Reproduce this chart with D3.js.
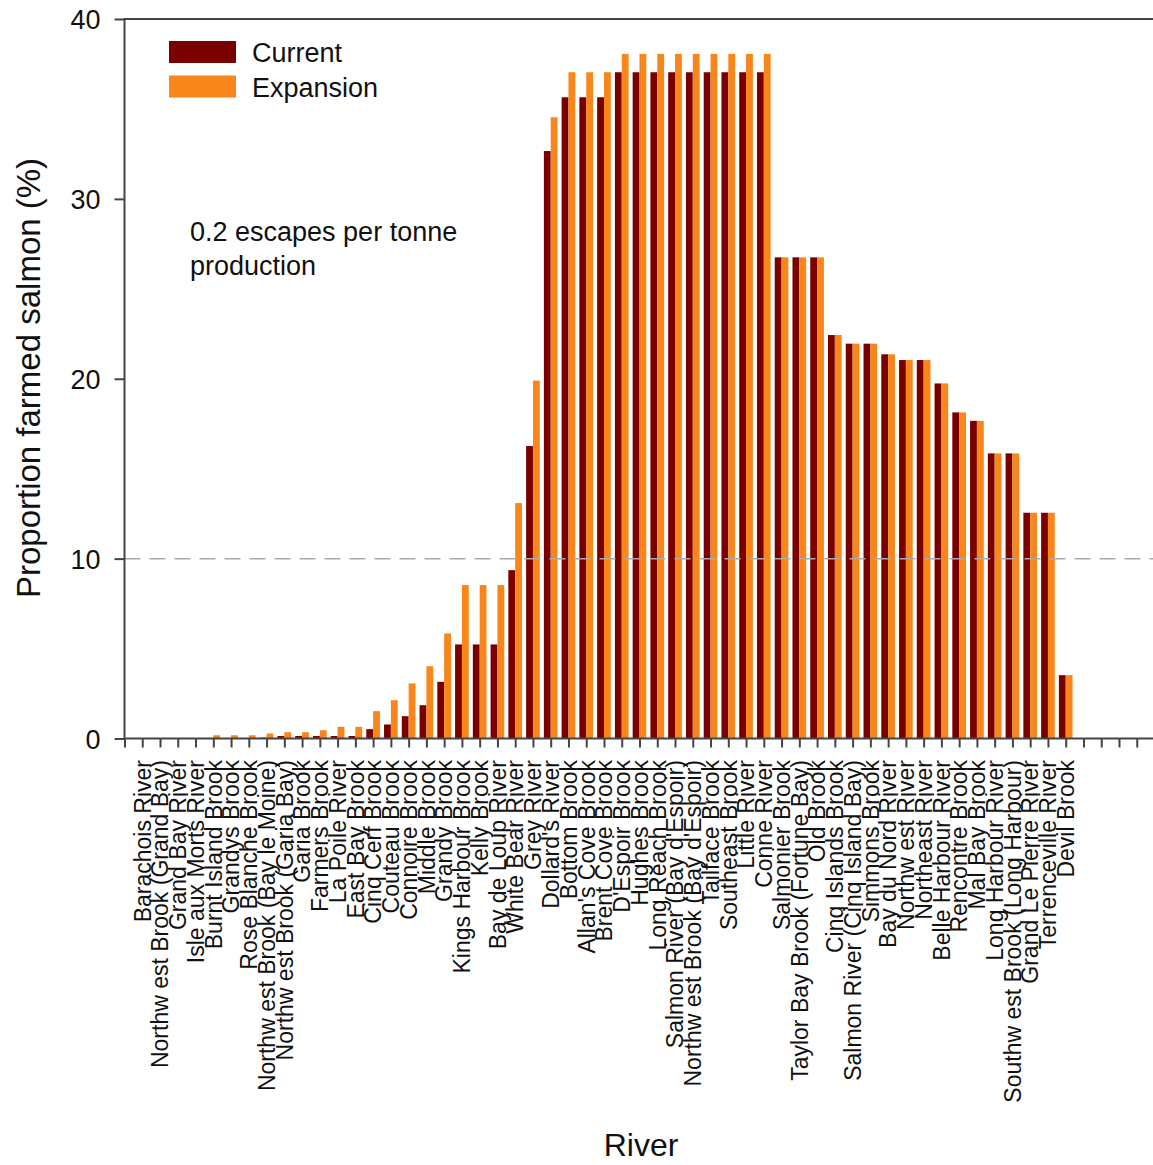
<!DOCTYPE html>
<html><head><meta charset="utf-8">
<script src="https://cdn.jsdelivr.net/npm/d3@7"></script>
<style>body{margin:0;background:#fff}svg{display:block}text{font-family:"Liberation Sans",Arial,sans-serif;fill:#111}</style>
</head><body><svg id="c" width="1153" height="1165"></svg>
<script>
const categories = ["Barachois River","Northw est Brook (Grand Bay)","Grand Bay River","Isle aux Morts River","Burnt Island Brook","Grandys Brook","Rose Blanche Brook","Northw est Brook (Bay le Moine)","Northw est Brook (Garia Bay)","Garia Brook","Farmers Brook","La Poile River","East Bay Brook","Cinq Cerf Brook","Couteau Brook","Connoire Brook","Middle Brook","Grandy Brook","Kings Harbour Brook","Kelly Brook","Bay de Loup River","White Bear River","Grey River","Dollard's River","Bottom Brook","Allan's Cove Brook","Brent Cove Brook","D'Espoir Brook","Hughes Brook","Long Reach Brook","Salmon River (Bay d'Espoir)","Northw est Brook (Bay d'Espoir)","Tailface Brook","Southeast Brook","Little River","Conne River","Salmonier Brook","Taylor Bay Brook (Fortune Bay)","Old Brook","Cinq Islands Brook","Salmon River (Cinq Island Bay)","Simmons Brook","Bay du Nord River","Northw est River","Northeast River","Belle Harbour River","Rencontre Brook","Mal Bay Brook","Long Harbour River","Southw est Brook (Long Harbour)","Grand Le Pierre River","Terrenceville River","Devil Brook"];
const current = [0,0,0,0,0,0,0,0.05,0.14,0.14,0.14,0.14,0.14,0.52,0.78,1.24,1.85,3.15,5.23,5.23,5.23,9.36,16.26,32.66,35.65,35.65,35.65,37.04,37.04,37.04,37.04,37.04,37.04,37.04,37.04,37.04,26.75,26.75,26.75,22.43,21.95,21.95,21.36,21.04,21.04,19.74,18.13,17.66,15.85,15.85,12.55,12.55,3.52];
const expansion = [0,0,0,0,0.18,0.18,0.18,0.28,0.35,0.35,0.46,0.65,0.65,1.52,2.13,3.06,4.02,5.84,8.53,8.53,8.53,13.09,19.9,34.54,37.04,37.04,37.04,38.06,38.06,38.06,38.06,38.06,38.06,38.06,38.06,38.06,26.75,26.75,26.75,22.43,21.95,21.95,21.36,21.04,21.04,19.74,18.13,17.66,15.85,15.85,12.55,12.55,3.52];
const yTicks = [0,10,20,30,40];
const seriesNames = ["Current","Expansion"];
const colors = ["#7a0000","#f8861b"];
const threshold = 10;

const svg = d3.select("#c");
const x = d3.scaleLinear().domain([0,58]).range([124.5,1154.5]);
const y = d3.scaleLinear().domain([0,40]).range([738.5,19]);
const step = x(1)-x(0);
const bw = step*0.385;
const axisColor = "#444";

// bars
const g = svg.append("g");
g.selectAll("rect.cur").data(current).join("rect")
  .attr("x",(d,i)=>x(i+1)-bw).attr("width",bw)
  .attr("y",d=>y(d)).attr("height",d=>y(0)-y(d)).attr("fill",colors[0]);
g.selectAll("rect.exp").data(expansion).join("rect")
  .attr("x",(d,i)=>x(i+1)).attr("width",bw)
  .attr("y",d=>y(d)).attr("height",d=>y(0)-y(d)).attr("fill",colors[1]);

// threshold dashed line
svg.append("line").attr("x1",x(0)).attr("x2",x(58)).attr("y1",y(threshold)).attr("y2",y(threshold))
  .attr("stroke","#aaa").attr("stroke-width",1.5).attr("stroke-dasharray","16,9");

// frame
svg.append("rect").attr("x",x(0)).attr("y",y(40)).attr("width",x(58)-x(0)).attr("height",y(0)-y(40))
  .attr("fill","none").attr("stroke",axisColor).attr("stroke-width",2);

// x axis ticks
const xa = svg.append("g").attr("transform",`translate(0,${y(0)})`)
  .call(d3.axisBottom(x).tickValues(d3.range(0,58)).tickSize(9).tickFormat(""));
xa.select(".domain").remove();
xa.selectAll("line").attr("stroke",axisColor).attr("stroke-width",2);

// y axis
const ya = svg.append("g").attr("transform",`translate(${x(0)},0)`)
  .call(d3.axisLeft(y).tickValues(yTicks).tickSize(10).tickPadding(14));
ya.select(".domain").remove();
ya.selectAll("line").attr("stroke",axisColor).attr("stroke-width",2);
ya.selectAll("text").attr("font-size",27).attr("font-family","Liberation Sans, Arial, sans-serif").attr("fill","#111").attr("dy","0.36em");

// category labels
svg.append("g").selectAll("text").data(categories).join("text")
  .attr("transform",(d,i)=>`translate(${x(i+1)},760) rotate(-90)`)
  .attr("text-anchor","end").attr("dy","0.36em").attr("font-size",23).text(d=>d);

// axis titles
svg.append("text").attr("transform","translate(40,378) rotate(-90)").attr("text-anchor","middle")
  .attr("font-size",33).text("Proportion farmed salmon (%)");
svg.append("text").attr("x",641).attr("y",1156).attr("text-anchor","middle")
  .attr("font-size",32).text("River");

// legend
const lg = svg.append("g");
seriesNames.forEach((n,i)=>{
  lg.append("rect").attr("x",169).attr("y",41+i*34.5).attr("width",67).attr("height",22).attr("fill",colors[i]);
  lg.append("text").attr("x",252).attr("y",62+i*34.5).attr("font-size",27).text(n);
});

// annotation
svg.append("text").attr("x",190).attr("y",241).attr("font-size",27).text("0.2 escapes per tonne");
svg.append("text").attr("x",190).attr("y",275).attr("font-size",27).text("production");
</script></body></html>
